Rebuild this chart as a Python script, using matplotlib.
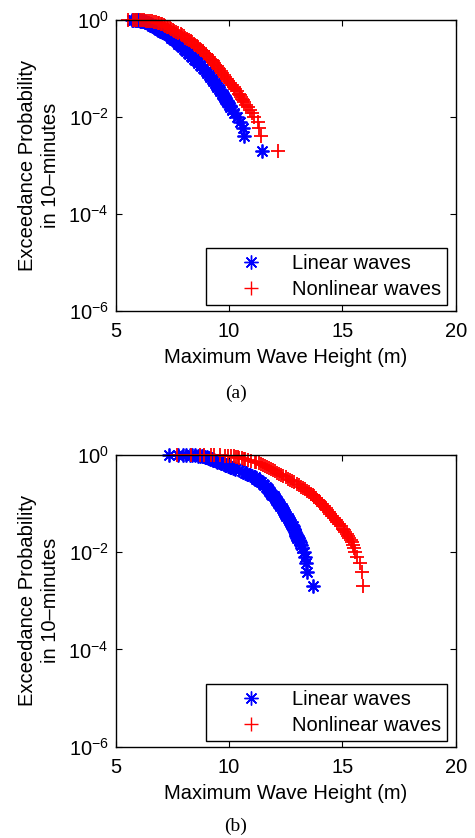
import numpy as np
import matplotlib
matplotlib.use("Agg")
import matplotlib.pyplot as plt

plt.rcParams['font.family'] = ['Liberation Sans', 'DejaVu Sans']
plt.rcParams['mathtext.fontset'] = 'custom'
plt.rcParams['mathtext.rm'] = 'Liberation Sans'
plt.rcParams['mathtext.it'] = 'Liberation Sans'

# exceedance rank of each plotted point (smallest probability is 1/500)
n_waves = 500
ranks = [1, 2, 3, 4, 5, 6, 7, 8, 9, 10, 11, 12, 13, 14, 15, 17, 19, 21, 23, 25,
         28, 31, 34, 37, 40, 44, 48, 52, 56, 60, 65, 70, 75, 80, 86, 92, 98, 105,
         112, 120, 128, 136, 145, 154, 163, 173, 183, 194, 205, 217, 229, 241,
         254, 267, 280, 294, 308, 322, 336, 350, 364, 378, 392, 405, 418, 430,
         441, 451, 460, 468, 475, 481, 486, 490, 493, 495, 497, 498, 499, 500]

# maximum wave height (m) at each rank
# panel (a)
lin_a = [11.47, 10.67, 10.62, 10.47, 10.33, 10.22, 10.12, 10.05, 9.99, 9.93,
         9.87, 9.82, 9.78, 9.74, 9.70, 9.62, 9.55, 9.49, 9.42, 9.37, 9.29, 9.23,
         9.16, 9.10, 9.04, 8.97, 8.91, 8.84, 8.77, 8.70, 8.64, 8.57, 8.50, 8.44,
         8.36, 8.30, 8.24, 8.17, 8.12, 8.06, 8.00, 7.94, 7.88, 7.82, 7.77, 7.71,
         7.65, 7.58, 7.52, 7.46, 7.40, 7.34, 7.27, 7.15, 7.06, 6.99, 6.92, 6.85,
         6.80, 6.74, 6.67, 6.62, 6.59, 6.54, 6.48, 6.42, 6.37, 6.32, 6.28, 6.23,
         6.18, 6.13, 6.07, 6.02, 5.97, 5.93, 5.88, 5.84, 5.78, 5.70]
nl_a = [12.17, 11.42, 11.33, 11.27, 11.12, 11.02, 10.92, 10.85, 10.74, 10.66,
        10.60, 10.55, 10.51, 10.47, 10.43, 10.34, 10.27, 10.20, 10.12, 10.06,
        9.97, 9.90, 9.82, 9.76, 9.70, 9.64, 9.57, 9.51, 9.46, 9.40, 9.35, 9.28,
        9.23, 9.17, 9.10, 9.03, 8.98, 8.91, 8.85, 8.78, 8.71, 8.64, 8.58, 8.51,
        8.44, 8.37, 8.30, 8.22, 8.14, 8.07, 8.00, 7.93, 7.86, 7.76, 7.67, 7.57,
        7.51, 7.44, 7.39, 7.32, 7.26, 7.18, 7.11, 7.06, 6.99, 6.93, 6.86, 6.76,
        6.69, 6.61, 6.52, 6.44, 6.34, 6.24, 6.14, 6.05, 5.95, 5.85, 5.75, 5.55]

# panel (b)
lin_b = [13.72, 13.42, 13.40, 13.35, 13.30, 13.24, 13.18, 13.12, 13.07, 13.00,
         12.97, 12.94, 12.90, 12.86, 12.85, 12.80, 12.73, 12.68, 12.63, 12.59,
         12.52, 12.46, 12.41, 12.36, 12.32, 12.27, 12.22, 12.17, 12.12, 12.08,
         12.02, 11.97, 11.91, 11.87, 11.81, 11.76, 11.72, 11.67, 11.62, 11.56,
         11.49, 11.41, 11.34, 11.27, 11.21, 11.13, 11.02, 10.91, 10.81, 10.69,
         10.56, 10.43, 10.28, 10.17, 10.06, 9.95, 9.84, 9.76, 9.67, 9.57, 9.48,
         9.41, 9.32, 9.25, 9.17, 9.13, 9.09, 9.03, 8.95, 8.87, 8.80, 8.71, 8.62,
         8.50, 8.38, 8.28, 8.08, 7.95, 7.75, 7.36]
nl_b = [15.90, 15.86, 15.76, 15.66, 15.56, 15.52, 15.48, 15.42, 15.36, 15.30,
        15.25, 15.19, 15.12, 15.07, 15.02, 14.92, 14.84, 14.77, 14.70, 14.64,
        14.54, 14.47, 14.40, 14.33, 14.27, 14.19, 14.11, 14.02, 13.95, 13.88,
        13.82, 13.75, 13.70, 13.63, 13.54, 13.45, 13.36, 13.27, 13.18, 13.07,
        12.98, 12.87, 12.77, 12.68, 12.60, 12.52, 12.40, 12.29, 12.20, 12.10,
        12.01, 11.92, 11.84, 11.75, 11.66, 11.57, 11.48, 11.39, 11.30, 11.21,
        11.13, 10.97, 10.82, 10.72, 10.64, 10.55, 10.46, 10.38, 10.30, 10.21,
        10.10, 9.95, 9.80, 9.62, 9.34, 9.20, 8.90, 8.70, 8.30, 7.69]

x_ticks = [5, 10, 15, 20]
y_ticks = [1e0, 1e-2, 1e-4, 1e-6]
y_tick_labels = [r'$\mathregular{10^{0}}$', r'$\mathregular{10^{-2}}$',
                 r'$\mathregular{10^{-4}}$', r'$\mathregular{10^{-6}}$']
labels = ['Linear waves', 'Nonlinear waves']
FS = 14.5

asterisk = (8, 2, 0)


def draw_panel(ax, lin_h, nl_h):
    prob = np.array(ranks) / n_waves
    ax.plot(lin_h, prob, linestyle='none', marker=asterisk, color='#0000ff',
            markersize=10, markeredgewidth=1.3, label=labels[0], clip_on=False)
    ax.plot(nl_h, prob, linestyle='none', marker='+', color='#ff0000',
            markersize=10.5, markeredgewidth=1.3, label=labels[1], clip_on=False)
    ax.set_yscale('log')
    ax.set_xlim(5, 20)
    ax.set_ylim(1e-6, 1e0)
    ax.set_xticks(x_ticks)
    ax.set_xticklabels([str(t) for t in x_ticks])
    ax.set_yticks(y_ticks)
    ax.set_yticklabels(y_tick_labels)
    ax.yaxis.set_minor_locator(matplotlib.ticker.NullLocator())
    ax.tick_params(direction='in', top=True, right=True, length=4, width=0.8,
                   labelsize=FS)
    ax.tick_params(axis='x', pad=8)
    ax.tick_params(axis='y', pad=5)
    for s in ax.spines.values():
        s.set_linewidth(1.0)
    ax.set_xlabel('Maximum Wave Height (m)', fontsize=FS, labelpad=5)
    ax.set_ylabel('Exceedance Probability\nin 10\u2013minutes', fontsize=FS,
                  linespacing=1.25)
    ax.yaxis.set_label_coords(-0.165, 0.5)
    leg = ax.legend(loc='lower right', bbox_to_anchor=(0.9735, 0.0206),
                    borderaxespad=0, fancybox=False, framealpha=1,
                    edgecolor='black', fontsize=FS, handlelength=3.9,
                    handletextpad=0.05, labelspacing=0.35, borderpad=0.3)
    leg.get_frame().set_linewidth(1.0)
    for h in leg.legend_handles:
        h.set_markeredgewidth(1.0)


fig = plt.figure(figsize=(4.75, 8.38), dpi=100)
ax1 = fig.add_axes([0.2436, 0.6289, 0.7158, 0.3473])
ax2 = fig.add_axes([0.2436, 0.1090, 0.7158, 0.3481])

draw_panel(ax1, lin_a, nl_a)
draw_panel(ax2, lin_b, nl_b)

fig.text(236 / 475, 1 - 393 / 838, '(a)', ha='center', va='center',
         fontsize=14, family=['Liberation Serif', 'DejaVu Serif'])
fig.text(236 / 475, 1 - 826 / 838, '(b)', ha='center', va='center',
         fontsize=14, family=['Liberation Serif', 'DejaVu Serif'])

fig.savefig('out.png', dpi=100)
